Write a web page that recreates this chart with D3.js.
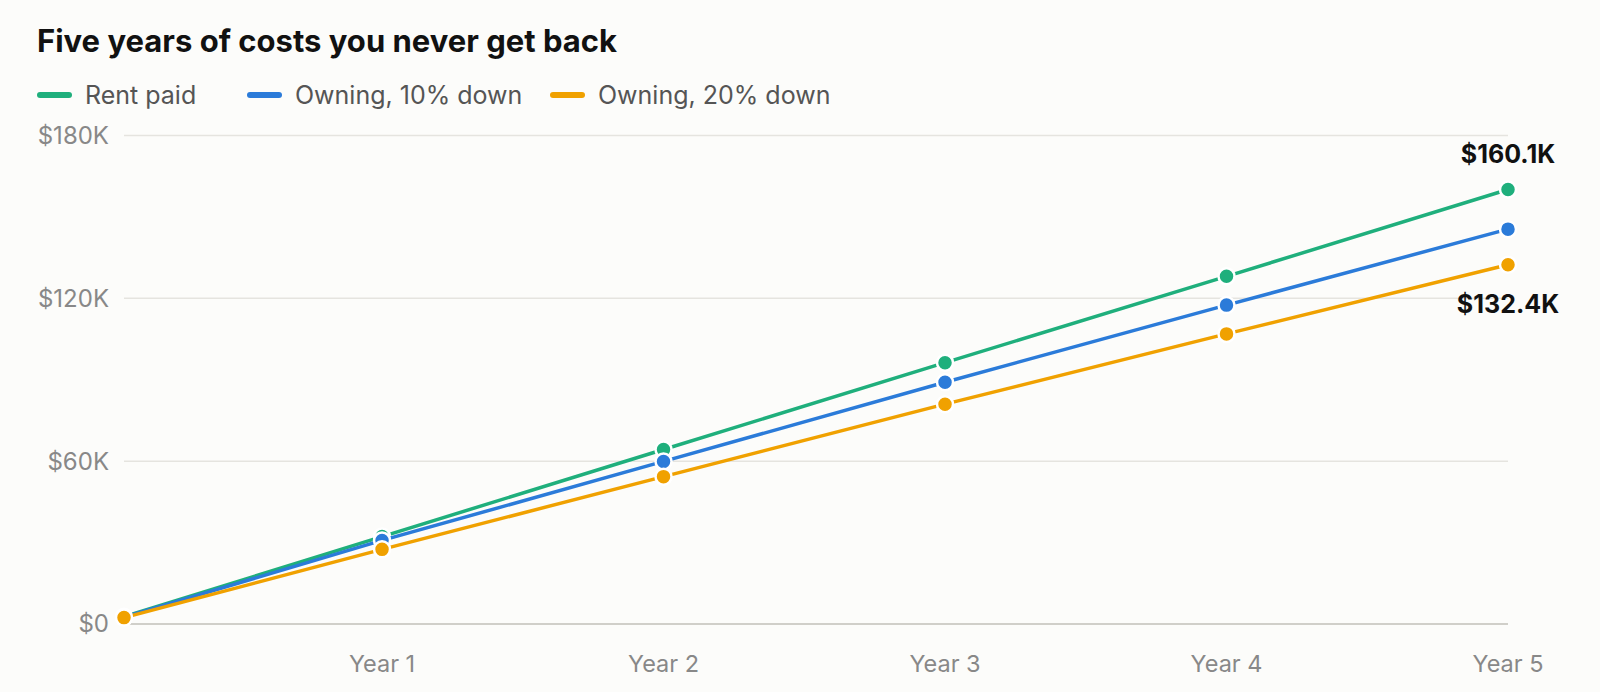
<!DOCTYPE html>
<html>
<head>
<meta charset="utf-8">
<script src="https://cdn.jsdelivr.net/npm/d3@7"></script>
<style>
  html, body { margin: 0; padding: 0; background: #fcfcfa; }
  svg { display: block; font-family: Inter, "Noto Sans", sans-serif; }
</style>
</head>
<body>
<svg width="1600" height="692"></svg>
<script>
// data: cumulative cost, in thousands of dollars
const months = [1, 12, 24, 36, 48, 60];
const rentPaid = [2.67, 32.2, 64.3, 96.3, 128.1, 160.1];
const owning10 = [2.55, 30.8, 59.9, 89.1, 117.5, 145.5];
const owning20 = [2.35, 27.5, 54.3, 81.0, 106.9, 132.4];
const seriesNames = ["Rent paid", "Owning, 10% down", "Owning, 20% down"];
const seriesColors = ["#1faf7c", "#2b7bd9", "#f0a100"];
const yTicks = [0, 60, 120, 180];
const xTicks = [12, 24, 36, 48, 60];

const series = [rentPaid, owning10, owning20].map((vals, i) => ({
  name: seriesNames[i],
  color: seriesColors[i],
  points: vals.map((v, j) => ({ m: months[j], v: v }))
}));

const svg = d3.select("svg");

const x = d3.scaleLinear().domain([1, 60]).range([124, 1508]);
const y = d3.scaleLinear().domain([0, 180]).range([624, 135.5]);

// title
svg.append("text")
  .attr("x", 37).attr("y", 52)
  .attr("font-size", 31).attr("font-weight", 700)
  .attr("fill", "#111")
  .text("Five years of costs you never get back");

// legend
const legendX = [37, 247, 550];
const legend = svg.append("g");
series.forEach((s, i) => {
  const g = legend.append("g").attr("transform", `translate(${legendX[i]},95)`);
  g.append("line")
    .attr("x1", 3).attr("x2", 32)
    .attr("stroke", s.color).attr("stroke-width", 6).attr("stroke-linecap", "round");
  g.append("text")
    .attr("x", 48).attr("dy", "0.35em")
    .attr("font-size", 25).attr("fill", "#555")
    .text(s.name);
});

// grid
svg.append("g")
  .selectAll("line")
  .data(yTicks)
  .enter().append("line")
  .attr("x1", 124).attr("x2", 1508)
  .attr("y1", d => y(d)).attr("y2", d => y(d))
  .attr("stroke", d => d === 0 ? "#c2c1b8" : "#e5e4df")
  .attr("stroke-width", 1.5);

// y axis labels
svg.append("g")
  .selectAll("text")
  .data(yTicks)
  .enter().append("text")
  .attr("x", 109).attr("y", d => y(d))
  .attr("dy", "0.35em")
  .attr("text-anchor", "end")
  .attr("font-size", 24).attr("fill", "#888")
  .text(d => d === 0 ? "$0" : `$${d}K`);

// x axis labels
svg.append("g")
  .selectAll("text")
  .data(xTicks)
  .enter().append("text")
  .attr("x", d => x(d)).attr("y", 664)
  .attr("dy", "0.35em")
  .attr("text-anchor", "middle")
  .attr("font-size", 23.5).attr("fill", "#888")
  .text(d => `Year ${d / 12}`);

// lines + dots
const line = d3.line().x(d => x(d.m)).y(d => y(d.v));

series.forEach(s => {
  const g = svg.append("g");
  g.append("path")
    .datum(s.points)
    .attr("d", line)
    .attr("fill", "none")
    .attr("stroke", s.color)
    .attr("stroke-width", 3.5);
  g.selectAll("circle")
    .data(s.points)
    .enter().append("circle")
    .attr("cx", d => x(d.m)).attr("cy", d => y(d.v))
    .attr("r", 8)
    .attr("fill", s.color)
    .attr("stroke", "#fff").attr("stroke-width", 2.5);
});

// end labels
const lastRent = series[0].points[series[0].points.length - 1];
const lastOwn20 = series[2].points[series[2].points.length - 1];
svg.append("text")
  .attr("x", x(lastRent.m)).attr("y", y(lastRent.v) - 27)
  .attr("text-anchor", "middle")
  .attr("font-size", 25).attr("font-weight", 700).attr("fill", "#111")
  .text(`$${lastRent.v.toFixed(1)}K`);
svg.append("text")
  .attr("x", x(lastOwn20.m)).attr("y", y(lastOwn20.v) + 48)
  .attr("text-anchor", "middle")
  .attr("font-size", 25).attr("font-weight", 700).attr("fill", "#111")
  .text(`$${lastOwn20.v.toFixed(1)}K`);
</script>
</body>
</html>
